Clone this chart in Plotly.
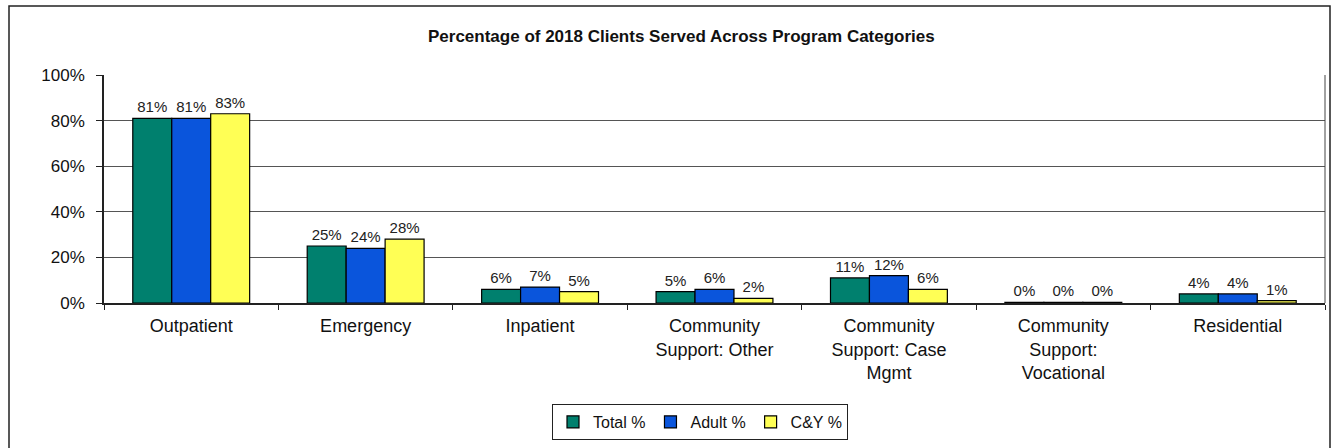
import plotly.graph_objects as go

categories = ["Outpatient", "Emergency", "Inpatient", "Community<br>Support: Other",
              "Community<br>Support: Case<br>Mgmt", "Community<br>Support:<br>Vocational", "Residential"]
total_pct = [81, 25, 6, 5, 11, 0.3, 4]
adult_pct = [81, 24, 7, 6, 12, 0.3, 4]
cy_pct = [83, 28, 5, 2, 6, 0.3, 1]
series_names = ["Total %", "Adult %", "C&Y %"]
series_colors = ["#00806E", "#0A55DC", "#FFFF55"]

W, H = 1331, 448
# plot area in page pixels
SL, SR, ST, SB = 104, 1325, 75, 303
L, T, R, B = SL, ST, W - SR, H - SB

plot_h = SB - ST
plot_w = SR - SL
def px_to_paper_x(px):
    return (px - SL) / plot_w
def px_to_paper_y(py):
    return (SB - py) / plot_h

fig = go.Figure()
for name, vals, col in zip(series_names, [total_pct, adult_pct, cy_pct], series_colors):
    fig.add_trace(go.Bar(
        x=categories, y=vals, name=name,
        marker=dict(color=col, line=dict(color="#000000", width=1.2)),
        texttemplate="%{y:.0f}%", textposition="outside", cliponaxis=False,
        textfont=dict(family="Arial, Liberation Sans", size=15, color="#222"),
    ))

fig.update_layout(
    width=W, height=H,
    margin=dict(l=L, r=R, t=T, b=B),
    plot_bgcolor="white", paper_bgcolor="white",
    barmode="group", bargap=0.33, bargroupgap=0,
    font=dict(family="Arial, Liberation Sans", color="#111"),
    showlegend=True,
    legend=dict(orientation="h", x=px_to_paper_x(700), xanchor="center",
                y=px_to_paper_y(422), yanchor="middle",
                bordercolor="#222", borderwidth=1, bgcolor="white",
                font=dict(size=16), itemwidth=30, traceorder="normal"),
    annotations=[dict(text="<b>Percentage of 2018 Clients Served Across Program Categories</b>",
                      x=px_to_paper_x(681), y=px_to_paper_y(37), xref="paper", yref="paper",
                      xanchor="center", yanchor="middle",
                      showarrow=False, font=dict(size=17, color="#111"))],
    shapes=[dict(type="rect", xref="paper", yref="paper",
                 x0=px_to_paper_x(9), x1=px_to_paper_x(1330),
                 y0=px_to_paper_y(470), y1=px_to_paper_y(6),
                 line=dict(color="#222", width=1.5), layer="below")],
)
fig.update_yaxes(range=[0, 100], dtick=20, ticksuffix="%", showgrid=True, gridcolor="#555",
                 gridwidth=1.2, showline=True, linecolor="#222", linewidth=1.5, ticks="outside",
                 ticklen=6, tickcolor="#222", tickfont=dict(size=17), mirror=False, zeroline=False,
                 ticklabelstandoff=8)
fig.update_xaxes(showline=True, linecolor="#222", linewidth=1.5, ticks="outside", tickson="boundaries",
                 ticklen=5, tickcolor="#222", tickfont=dict(size=18), mirror=False,
                 ticklabelstandoff=6)
fig.add_shape(type="line", xref="paper", yref="paper", x0=1, x1=1, y0=0, y1=1,
              line=dict(color="#444", width=1))

fig.write_html("out.html", config={"displayModeBar": False},
               post_script="document.body.style.margin='0';")
